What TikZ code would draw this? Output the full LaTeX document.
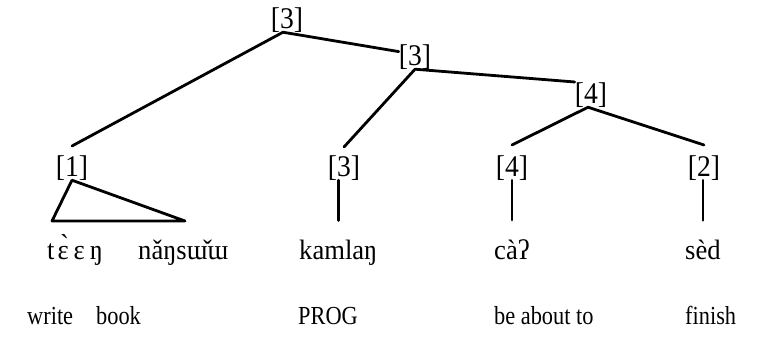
\documentclass[tikz,border=0pt]{standalone}
\usepackage{fontspec}
\setmainfont{Liberation Serif}
\newfontfamily\labfont[FakeStretch=0.92]{Liberation Serif}
\newfontfamily\wrdfont[FakeStretch=0.95]{Liberation Serif}
\newfontfamily\glsfont[FakeStretch=0.86]{Liberation Serif}
\begin{document}
\begin{tikzpicture}[x=1pt,y=-1pt,
  lab/.style={font=\labfont\fontsize{30}{34}\selectfont, inner sep=0pt, anchor=base},
  wrd/.style={font=\wrdfont\fontsize{28}{32}\selectfont, inner sep=0pt, anchor=base west},
  gls/.style={font=\glsfont\fontsize{26}{30}\selectfont, inner sep=0pt, anchor=base west},
  br/.style={line width=2.8pt, line cap=round, line join=round}]
\useasboundingbox (0,0) rectangle (758,356);
% labels
\node[lab] (t)  at (287,28)  {[3]};
\node[lab] (a)  at (415,65)  {[3]};
\node[lab] (b)  at (591,103) {[4]};
\node[lab] (l1) at (72,176)  {[1]};
\node[lab] (l3) at (344,176) {[3]};
\node[lab] (l4) at (512,176) {[4]};
\node[lab] (l2) at (704,176) {[2]};
% words
\node[wrd] (w1) at (47,259)  {t\kern3pt ɛ̀\kern5pt ɛ\kern5pt ŋ};
\node[wrd] (w2) at (138,259) {nǎŋsɯ̌ɯ};
\node[wrd] (w3) at (299,259) {kamlaŋ};
\node[wrd] (w4) at (494,259) {càʔ};
\node[wrd] (w5) at (685,259) {sèd};
% glosses
\node[gls] (g1) at (27,324)  {write};
\node[gls] (g2) at (96,324)  {book};
\node[gls] (g3) at (298,324) {PROG};
\node[gls] (g4) at (494,324) {be about to};
\node[gls] (g5) at (685,324) {finish};
% branches
\draw[br] ([yshift=5pt]a.west) -- ([xshift=-4pt]t.south) -- ([yshift=9pt]l1.north);
\draw[br] (b.north west) -- (a.south) -- ([yshift=8pt]l3.north);
\draw[br] ([yshift=10pt]l4.north) -- ([xshift=-3pt]b.south) -- ([yshift=10pt]l2.north);
% triangle
\coordinate (tl) at (52,221);
\coordinate (tr) at (185,221);
\draw[br] (l1.south) -- (tl) -- (tr) -- cycle;
% vertical lines
\draw[br] (w3.north |- l3.south) -- ([yshift=19pt]w3.north);
\draw[br] (w4.north |- l4.south) -- ([yshift=19pt]w4.north);
\draw[br] (w5.north |- l2.south) -- ([yshift=19pt]w5.north);
\end{tikzpicture}
\end{document}
